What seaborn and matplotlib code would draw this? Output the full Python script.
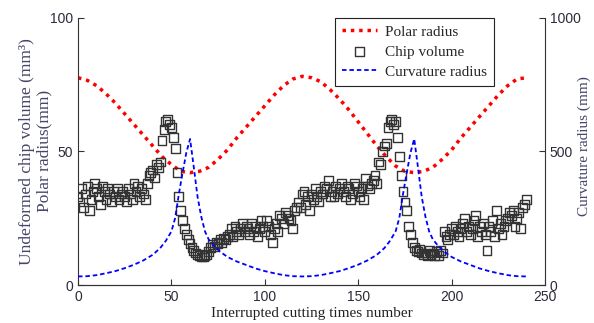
import matplotlib
matplotlib.use("Agg")
import matplotlib.pyplot as plt
import seaborn as sns

# ========== data ==========
# polar radius (left axis, mm), sampled every 5 cuts
polar_x = list(range(0, 241, 5))
polar_r = [77.5, 76.5, 74.5, 71.5, 68, 64, 60, 56, 52, 48, 45, 42.5, 42,
           42.5, 44, 47, 50.5, 55, 59, 63, 67, 71, 74.5, 77, 78,
           77.5, 76, 73, 69.5, 65.5, 61, 56.5, 52, 48, 44.5, 42.5, 42,
           42.5, 44, 47, 50.5, 55, 59, 63, 67, 71, 74.5, 77, 77.5]

# curvature radius (right axis, mm)
curv_x = [0, 5, 10, 15, 20, 25, 30, 35, 40, 44, 47, 50, 52, 54, 56, 58, 60,
          62, 64, 66, 68, 70, 73, 76, 80, 85, 90, 95, 100, 105, 110, 115, 120,
          125, 130, 135, 140, 145, 150, 155, 160, 164, 167, 170, 172, 174, 176,
          178, 180, 182, 184, 186, 188, 190, 193, 196, 200, 205, 210, 215, 220,
          225, 230, 235, 240]
curv_r = [32, 33, 37, 44, 52, 63, 76, 92, 113, 138, 165, 200, 250, 340, 420, 495, 546,
          440, 330, 255, 200, 170, 145, 125, 105, 88, 75, 62, 52, 44, 37, 33, 32,
          33, 37, 44, 52, 63, 76, 92, 113, 138, 165, 200, 250, 340, 420,
          495, 546, 440, 330, 255, 200, 170, 145, 125, 105, 88, 75, 62, 52,
          44, 37, 33, 32]

# undeformed chip volume (left axis, mm^3), one per cut 0..240
chip_v = [33, 31, 36, 29, 34, 37, 28, 32, 35, 38,
          36, 33, 30, 37, 35, 32, 36, 34, 31, 35,
          33, 36, 32, 34, 35, 33, 31, 36, 34, 32,
          38, 35, 37, 33, 36, 34, 32, 38, 41, 42,
          43, 40, 45, 44, 46, 54, 58, 61, 62, 60,
          59, 55, 51, 42, 33, 28, 24, 21, 19, 17,
          15.5, 14, 13, 12, 11.5, 11, 10.5, 10.5, 11, 11.5,
          12.5, 14, 15, 14.5, 16, 15.5, 17, 16, 17.5, 17,
          18, 19, 21, 18, 22, 20, 19, 21, 23, 20,
          22, 21, 19, 23, 20, 22, 18, 21, 24, 22,
          20, 24, 22, 19, 16, 21, 23, 20, 26, 25,
          23, 27, 26, 25, 24, 21, 28, 29, 31, 29,
          34, 35, 30, 33, 28, 34, 32, 36, 33, 31,
          35, 34, 37, 36, 39, 33, 35, 33, 37, 34,
          36, 38, 35, 33, 37, 36, 32, 34, 38, 37,
          35, 33, 36, 32, 40, 37, 36, 38, 39, 41,
          38, 46, 45, 50, 52, 53, 59, 61, 62, 60,
          61, 55, 48, 41, 35, 31, 28, 22, 19, 16,
          14, 13, 12.5, 13.5, 12, 11.5, 12, 11, 13, 11.5,
          12, 11, 12.5, 11, 13, 12, 20, 18, 17, 19,
          21, 19, 22, 20, 18, 21, 23, 25, 20, 22,
          19, 21, 24, 26, 18, 22, 20, 23, 19, 13,
          22, 20, 24, 18, 28, 21, 23, 19, 22, 24,
          25, 27, 26, 28, 22, 25, 27, 21, 29, 30,
          32]
chip_x = list(range(len(chip_v)))

x_ticks = [0, 50, 100, 150, 200, 250]
left_ticks = [0, 50, 100]
right_ticks = [0, 500, 1000]

# ========== style ==========
sns.set_theme(style="white")
plt.rcParams['font.family'] = ['Liberation Sans', 'DejaVu Sans']
serif = ['Liberation Serif', 'DejaVu Serif']
label_col = '#45456a'
tick_col = '#2b2b3a'

fig = plt.figure(figsize=(5.94, 3.23), dpi=100)
ax = fig.add_axes([0.1313, 0.1176, 0.7862, 0.8282])
ax2 = ax.twinx()

sns.lineplot(x=polar_x, y=polar_r, ax=ax, color='#ff0000', lw=2.5,
             label='Polar radius')
sns.scatterplot(x=chip_x, y=chip_v, ax=ax, marker='s', s=40,
                facecolor='none', edgecolor='#333333', linewidth=1.0,
                label='Chip volume', zorder=3)
sns.lineplot(x=curv_x, y=curv_r, ax=ax2, color='#0000ff', lw=1.3,
             label='Curvature radius')

ax.lines[0].set_dashes((1, 1.4))
ax.lines[0].set_dash_capstyle('butt')
ax2.lines[0].set_dashes((2.5, 1.6))

# axes
ax.set_xlim(0, 250)
ax.set_ylim(0, 100)
ax2.set_ylim(0, 1000)
ax.set_xticks(x_ticks)
ax.set_yticks(left_ticks)
ax2.set_yticks(right_ticks)

for a in (ax, ax2):
    a.spines['top'].set_visible(False)
    for s in a.spines.values():
        s.set_color('#333333')
        s.set_linewidth(0.8)
ax.spines['right'].set_visible(False)
ax2.spines['left'].set_visible(False)

ax.tick_params(axis='both', direction='in', length=4, width=0.8,
               color='#333333', labelsize=10, labelcolor=tick_col, pad=3.5,
               top=False, right=False, bottom=True, left=True)
ax2.tick_params(axis='y', direction='in', length=4, width=0.8,
                color='#333333', labelsize=10, labelcolor=tick_col, pad=3.5,
                right=True, left=False)

ax.set_xlabel('Interrupted cutting times number', family=serif, fontsize=11,
              color='#222222', labelpad=2)
ax.set_ylabel('Undeformed chip volume (mm³)\nPolar radius(mm)', family=serif,
              fontsize=12.5, color=label_col, linespacing=1.1)
ax.yaxis.set_label_coords(-0.055, 0.5)
ax2.set_ylabel('Curvature radius (mm)', family=serif, fontsize=11,
               color=label_col)
ax2.yaxis.set_label_coords(1.07, 0.52)

# combined legend
h1, l1 = ax.get_legend_handles_labels()
h2, l2 = ax2.get_legend_handles_labels()
if ax.get_legend() is not None:
    ax.get_legend().remove()
if ax2.get_legend() is not None:
    ax2.get_legend().remove()
leg = ax2.legend(h1 + h2, l1 + l2, loc='upper right',
                 bbox_to_anchor=(0.891, 0.998), prop={'family': serif, 'size': 11},
                 frameon=True, fancybox=False, framealpha=1, edgecolor='#222222',
                 borderpad=0.45, labelspacing=0.42, handlelength=2.3,
                 handletextpad=0.55, borderaxespad=0)
leg.get_frame().set_linewidth(0.8)

fig.savefig('out.png', dpi=100)
